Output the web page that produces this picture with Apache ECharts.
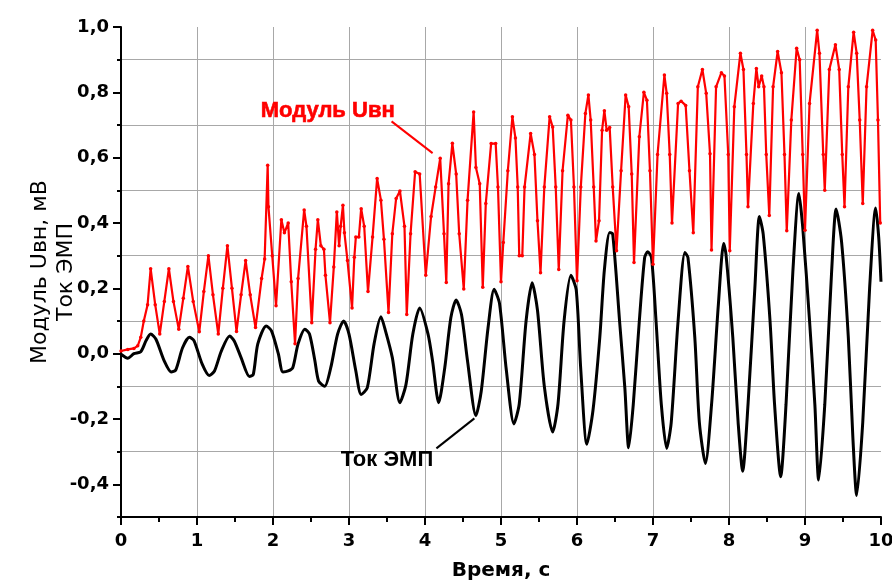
<!DOCTYPE html>
<html>
<head>
<meta charset="utf-8">
<script src="https://cdn.jsdelivr.net/npm/echarts@6/dist/echarts.min.js"></script>
<style>html,body{margin:0;padding:0;background:#fff}#c{width:892px;height:581px}</style>
</head>
<body>
<div id="c"></div>
<script>
// Модуль Uвн (red)
const redX = [0.00,0.09,0.17,0.22,0.26,0.30,0.35,0.39,0.45,0.51,0.57,0.63,0.69,0.76,0.82,0.88,0.95,1.03,1.09,1.15,1.21,1.28,1.34,1.40,1.46,1.52,1.58,1.64,1.70,1.77,1.85,1.89,1.93,1.94,1.99,2.04,2.11,2.15,2.20,2.24,2.29,2.33,2.41,2.44,2.51,
2.56,2.59,2.63,2.67,2.69,2.75,2.80,2.84,2.87,2.89,2.92,2.94,2.98,3.04,3.07,3.09,3.13,3.16,3.20,3.25,3.31,3.37,3.42,3.46,3.52,3.57,3.62,3.67,3.73,3.76,3.81,3.87,3.93,4.01,4.08,4.14,4.20,4.25,4.28,4.31,4.36,4.41,4.45,4.51,4.56,4.64,4.67,4.72,4.76,4.80,4.87,4.93,4.96,
5.00,5.03,5.09,5.15,5.19,5.22,5.24,5.28,5.31,5.39,5.44,5.48,5.52,5.57,5.64,5.68,5.72,5.76,5.81,5.88,5.92,5.96,6.00,6.05,6.11,6.15,6.18,6.22,6.25,6.29,6.33,6.36,6.39,6.43,6.47,6.52,6.58,6.64,6.68,6.72,6.75,6.82,6.88,6.92,6.96,7.00,7.06,7.15,7.18,7.22,7.25,
7.33,7.37,7.43,7.48,7.53,7.59,7.65,7.70,7.75,7.77,7.83,7.90,7.94,7.99,8.01,8.07,8.15,8.19,8.23,8.25,8.32,8.36,8.39,8.43,8.46,8.49,8.53,8.58,8.64,8.69,8.73,8.76,8.82,8.89,8.93,8.97,9.00,9.06,9.16,9.19,9.24,9.26,9.32,9.40,9.45,9.49,9.52,9.57,9.64,9.68,9.72,9.76,9.81,9.89,9.93,9.96,9.99];
const redY = [0.008,0.013,0.016,0.024,0.05,0.10,0.15,0.26,0.15,0.06,0.16,0.26,0.16,0.075,0.17,0.267,0.16,0.067,0.19,0.30,0.18,0.06,0.20,0.33,0.20,0.068,0.18,0.285,0.18,0.08,0.23,0.29,0.577,0.45,0.30,0.147,0.41,0.37,0.40,0.22,0.03,0.23,0.44,0.39,0.095,
0.32,0.41,0.33,0.32,0.24,0.095,0.265,0.434,0.33,0.39,0.454,0.37,0.285,0.14,0.295,0.357,0.357,0.444,0.39,0.19,0.357,0.536,0.47,0.35,0.126,0.367,0.475,0.498,0.39,0.12,0.367,0.557,0.55,0.24,0.42,0.51,0.598,0.367,0.218,0.52,0.644,0.55,0.367,0.198,0.47,0.74,0.57,0.52,0.203,0.46,0.643,0.643,0.51,
0.22,0.34,0.56,0.725,0.66,0.51,0.30,0.30,0.51,0.674,0.61,0.407,0.248,0.51,0.725,0.694,0.51,0.258,0.56,0.73,0.715,0.51,0.223,0.51,0.735,0.792,0.715,0.51,0.345,0.407,0.684,0.744,0.684,0.692,0.51,0.315,0.56,0.792,0.756,0.55,0.279,0.664,0.80,0.776,0.56,0.274,0.61,0.853,0.797,0.61,0.40,
0.766,0.773,0.76,0.56,0.37,0.817,0.87,0.797,0.612,0.317,0.817,0.86,0.85,0.61,0.315,0.756,0.92,0.87,0.61,0.45,0.766,0.873,0.817,0.85,0.817,0.61,0.423,0.817,0.925,0.86,0.61,0.376,0.715,0.935,0.90,0.61,0.378,0.766,0.99,0.92,0.61,0.50,0.87,0.946,0.87,0.61,0.45,0.817,0.984,0.92,0.715,0.46,0.817,0.99,0.96,0.715,0.40];

// Ток ЭМП (black)
const blackX = [0.00,0.09,0.17,0.26,0.33,0.39,0.46,0.57,0.66,0.72,0.81,0.90,0.96,1.07,1.16,1.23,1.32,1.43,1.49,1.58,1.69,1.74,1.80,1.91,1.98,2.07,2.13,2.20,2.26,2.33,2.42,2.48,2.55,2.60,2.68,2.76,2.85,2.93,3.00,3.09,3.16,3.24,3.33,3.42,3.48,3.57,3.67,3.75,3.84,3.93,4.04,4.10,4.18,4.26,4.34,4.41,4.48,4.56,4.67,4.74,4.83,4.91,4.98,
5.07,5.17,5.24,5.33,5.41,5.48,5.57,5.68,5.75,5.83,5.92,5.99,6.05,6.13,6.21,6.30,6.36,6.43,6.47,6.56,6.63,6.68,6.74,6.82,6.89,6.93,6.98,7.04,7.11,7.18,7.24,7.33,7.42,7.46,7.55,7.61,7.69,7.77,7.86,7.93,7.96,8.05,8.12,8.18,8.25,8.34,8.40,8.45,8.54,8.60,8.68,8.75,8.84,8.92,8.97,9.06,9.13,9.18,9.26,9.35,9.41,9.48,9.57,9.63,9.68,9.76,9.85,9.93,9.97,10.00];
const blackY = [-0.002,-0.014,0.0,0.006,0.04,0.06,0.044,-0.023,-0.056,-0.05,0.018,0.05,0.04,-0.033,-0.067,-0.053,0.008,0.054,0.039,-0.012,-0.07,-0.064,0.03,0.085,0.07,0.0,-0.056,-0.053,-0.043,0.03,0.075,0.06,-0.02,-0.084,-0.10,-0.043,0.06,0.10,0.06,-0.053,-0.125,-0.105,0.03,0.113,0.07,-0.012,-0.15,-0.094,0.06,0.14,0.06,-0.023,-0.15,-0.043,0.11,0.164,0.12,-0.023,-0.19,-0.115,0.08,0.197,0.154,
-0.05,-0.215,-0.154,0.10,0.217,0.133,-0.10,-0.24,-0.154,0.10,0.24,0.195,-0.05,-0.277,-0.174,0.05,0.256,0.371,0.366,0.10,-0.106,-0.288,-0.157,0.10,0.294,0.312,0.294,0.10,-0.157,-0.29,-0.21,0.10,0.31,0.294,0.05,-0.21,-0.336,-0.157,0.15,0.337,0.305,0.05,-0.21,-0.36,-0.157,0.20,0.42,0.366,0.10,-0.157,-0.377,-0.157,0.25,0.49,0.387,0.10,-0.157,-0.387,-0.157,0.25,0.443,0.345,0.05,-0.257,-0.434,-0.21,0.20,0.446,0.356,0.22];

const yMajorTicks = [-0.4,-0.2,0.0,0.2,0.4,0.6,0.8,1.0];
const redName = 'Модуль Uвн';
const blackName = 'Ток ЭМП';
const xTitle = 'Время, с';
const yTitle = 'Модуль Uвн, мВ\nТок ЭМП';

const redData = redX.map((x,i)=>[x, redY[i]]);
const blackData = blackX.map((x,i)=>[x, blackY[i]]);

const chart = echarts.init(document.getElementById('c'), null, {renderer:'canvas'});
const fmt = v => (Math.abs(v) < 1e-9 ? 0 : v).toFixed(1).replace('.', ',');
const tickFont = {fontFamily:'"DejaVu Sans", Arial, sans-serif', fontWeight:'bold', fontSize:18, color:'#000'};

chart.setOption({
  animation:false,
  backgroundColor:'#fff',
  grid:{left:121, right:11, top:27, bottom:64, containLabel:false, outerBoundsMode:'none'},
  xAxis:{
    type:'value', min:0, max:10, interval:1,
    name:xTitle, nameLocation:'middle', nameGap:44,
    nameTextStyle:{fontFamily:'"DejaVu Sans", Arial, sans-serif', fontWeight:'bold', fontSize:20, color:'#000'},
    axisLine:{show:true, onZero:false, lineStyle:{color:'#000', width:2}},
    axisTick:{show:true, inside:false, length:8, lineStyle:{color:'#000', width:2}},
    minorTick:{show:true, splitNumber:2, length:5, lineStyle:{color:'#000', width:2}},
    axisLabel:Object.assign({margin:15}, tickFont),
    splitLine:{show:true, showMinLine:false, showMaxLine:false, lineStyle:{color:'#a8a8a8', width:1}}
  },
  yAxis:[{
    type:'value', min:-0.5, max:1.0, interval:0.1,
    name:yTitle, nameLocation:'middle', nameGap:42, nameRotate:90,
    nameTextStyle:{fontFamily:'"DejaVu Sans", Arial, sans-serif', fontSize:22, color:'#000', lineHeight:26},
    axisLine:{show:true, onZero:false, lineStyle:{color:'#000', width:2}},
    axisTick:{show:true, inside:false, length:4, lineStyle:{color:'#000', width:2}},
    axisLabel:{show:false},
    splitLine:{show:true, showMinLine:false, showMaxLine:false, lineStyle:{color:['transparent','#a8a8a8'], width:1}}
  },{
    type:'value', min:-0.5, max:1.0, interval:0.1, position:'left', offset:0,
    axisLine:{show:false, onZero:false},
    axisTick:{show:true, inside:false, length:8, customValues:yMajorTicks, lineStyle:{color:'#000', width:2}},
    axisLabel:Object.assign({show:true, margin:12, customValues:yMajorTicks, formatter:fmt}, tickFont),
    splitLine:{show:false}
  }],
  series:[{
    name:blackName, type:'line', data:blackData, yAxisIndex:0,
    showSymbol:false, symbol:'none', smooth:0.25,
    lineStyle:{color:'#000', width:3}, z:2
  },{
    name:redName, type:'line', data:redData, yAxisIndex:0,
    symbol:'circle', symbolSize:3.5, showSymbol:true,
    itemStyle:{color:'#ff0000'},
    lineStyle:{color:'#ff0000', width:2.2}, z:3
  }]
});

function addAnnotations(){
  const p = (x,y) => chart.convertToPixel({xAxisIndex:0, yAxisIndex:0}, [x,y]);
  const rl = p(2.72, 0.744), ra = p(3.56, 0.711), rb = p(4.10, 0.614);
  const bl = p(3.50, -0.325), ba = p(4.15, -0.29), bb = p(4.65, -0.198);
  chart.setOption({graphic:[
    {type:'line', shape:{x1:ra[0],y1:ra[1],x2:rb[0],y2:rb[1]}, style:{stroke:'#ff0000', lineWidth:2}, z:10},
    {type:'text', x:rl[0], y:rl[1], style:{text:redName, fill:'#ff0000', font:'bold 22px Arial, "Liberation Sans", sans-serif', align:'center', verticalAlign:'middle', stroke:'#ff0000', lineWidth:0.6}, z:10},
    {type:'line', shape:{x1:ba[0],y1:ba[1],x2:bb[0],y2:bb[1]}, style:{stroke:'#000', lineWidth:2}, z:10},
    {type:'text', x:bl[0], y:bl[1], style:{text:blackName, fill:'#000', font:'bold 22px Arial, "Liberation Sans", sans-serif', align:'center', verticalAlign:'middle'}, z:10}
  ]});
}
addAnnotations();
</script>
</body>
</html>
